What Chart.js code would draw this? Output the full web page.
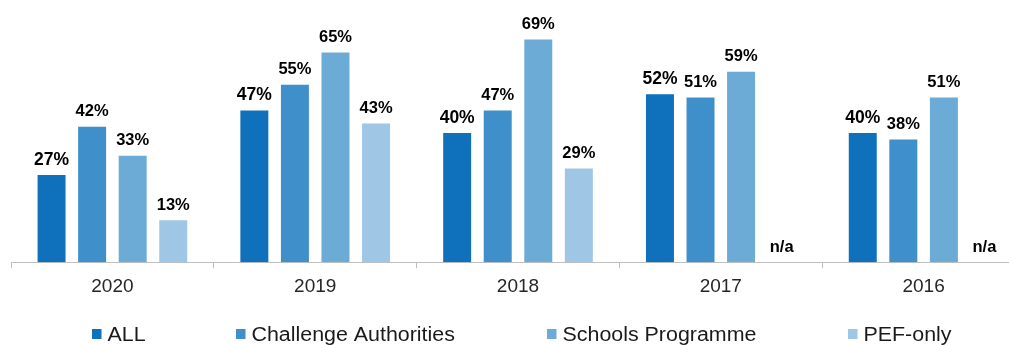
<!DOCTYPE html>
<html><head><meta charset="utf-8">
<script src="https://cdn.jsdelivr.net/npm/chart.js@4/dist/chart.umd.min.js"></script>
<style>
html,body{margin:0;padding:0;overflow:hidden;background:#fff;width:1009px;height:345px}
#wrap{position:absolute;left:0;top:0;width:1036px;height:345px}
</style></head>
<body><div id="wrap"><canvas id="c"></canvas></div>
<script>
const categories = ['2020','2019','2018','2017','2016'];
const seriesNames = ['ALL','Challenge Authorities','Schools Programme','PEF-only'];
const allValues = [27,47,40,52,40];
const challengeValues = [42,55,47,51,38];
const schoolsValues = [33,65,69,59,51];
const pefValues = [13,43,29,null,null];
const missingLabel = 'n/a';
const colors = ['#0F71BC','#3F8FCB','#6BABD6','#A0C6E6'];
const FONT = "'Liberation Sans', Arial, sans-serif";

const seriesValues = [allValues, challengeValues, schoolsValues, pefValues];

const labelPlugin = {
  id: 'barLabels',
  afterDatasetsDraw(chart) {
    const ctx = chart.ctx;
    const yScale = chart.scales.y;
    ctx.save();
    ctx.fillStyle = '#000';
    ctx.textAlign = 'center';
    ctx.textBaseline = 'alphabetic';
    chart.data.datasets.forEach((ds, di) => {
      const meta = chart.getDatasetMeta(di);
      meta.data.forEach((el, i) => {
        const v = ds.data[i];
        const txt = (v === null || v === undefined) ? missingLabel : v + '%';
        const y = (v === null || v === undefined || !isFinite(el.y)) ? yScale.getPixelForValue(0) : el.y;
        ctx.font = 'bold ' + (di === 0 ? 17.5 : 16.5) + 'px ' + FONT;
        ctx.fillText(txt, el.x, y - 10.5);
      });
    });
    ctx.restore();
  }
};

const legendPlugin = {
  id: 'customLegend',
  afterDraw(chart) {
    const ctx = chart.ctx;
    const xs = [92, 236, 547, 848];
    seriesNames.forEach((name, i) => {
      ctx.save();
      ctx.fillStyle = colors[i];
      ctx.fillRect(xs[i], 329, 9.5, 10);
      ctx.font = '20px ' + FONT;
      ctx.textBaseline = 'alphabetic';
      ctx.textAlign = 'left';
      ctx.fillStyle = '#1a1a1a';
      ctx.translate(xs[i] + 15.5, 341);
      ctx.scale(1.07, 1);
      ctx.fillText(name, 0, 0);
      ctx.restore();
    });
  }
};

new Chart(document.getElementById('c'), {
  type: 'bar',
  data: {
    labels: categories,
    datasets: seriesNames.map((n, i) => ({
      label: n,
      data: seriesValues[i],
      backgroundColor: colors[i],
      borderWidth: 0,
      categoryPercentage: 0.8,
      barPercentage: 0.69
    }))
  },
  options: {
    responsive: true,
    maintainAspectRatio: false,
    animation: false,
    devicePixelRatio: 1,
    layout: { padding: { top: 4, left: 11, right: 11, bottom: 40 } },
    plugins: { legend: { display: false }, tooltip: { enabled: false } },
    scales: {
      x: {
        grid: { display: true, drawOnChartArea: false, drawTicks: true, tickLength: 6, color: '#BFBFBF', offset: true },
        border: { display: true, color: '#BFBFBF', width: 1 },
        ticks: { font: { family: FONT, size: 19 }, color: '#262626', padding: 7, maxRotation: 0, autoSkip: false }
      },
      y: { display: false, min: 0, max: 80 }
    }
  },
  plugins: [labelPlugin, legendPlugin]
});
</script>
</body></html>
